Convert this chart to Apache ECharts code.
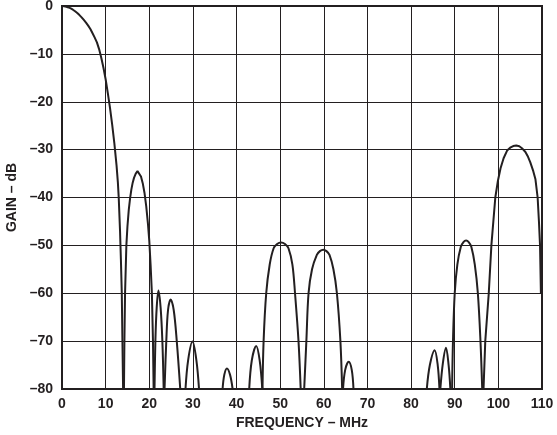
<!DOCTYPE html>
<html>
<head>
<meta charset="utf-8">
<script src="https://cdn.jsdelivr.net/npm/echarts@6/dist/echarts.min.js"></script>
<style>
  html, body { margin: 0; padding: 0; background: #fff; }
  #chart { width: 557px; height: 435px; }
</style>
</head>
<body>
<div id="chart"></div>
<script>
// Axis ticks
const xTicks = [0, 10, 20, 30, 40, 50, 60, 70, 80, 90, 100, 110];
const yTicks = [0, -10, -20, -30, -40, -50, -60, -70, -80];

// Lobes of the response, [frequency MHz, gain dB]
const lobe1 = [[0,0],[0.5,-0.05],[1,-0.15],[1.5,-0.3],[2,-0.5],[2.5,-0.77],[3,-1.1],[3.5,-1.48],[4,-1.9],[4.5,-2.37],[5,-2.9],[5.5,-3.48],[6,-4.1],[6.5,-4.8],[7,-5.7],[7.5,-6.6],[8,-7.6],[8.5,-9.0],[9,-10.8],[9.5,-12.9],[10,-15.3],[10.5,-18.2],[11,-21.3],[11.5,-24.8],[12,-28.7],[12.5,-33.3],[12.8,-36.8],[13.0,-40],[13.3,-47],[13.5,-53],[13.7,-60],[13.85,-70],[14.0,-80]];
const lobe2 = [[14.2,-80],[14.3,-70],[14.45,-60],[14.75,-50],[15.0,-46],[15.3,-42.6],[15.6,-40.2],[15.9,-38.3],[16.2,-36.9],[16.5,-35.9],[16.9,-35.0],[17.3,-34.5],[17.7,-34.8],[18.1,-35.6],[18.5,-37.0],[18.9,-39.0],[19.3,-41.8],[19.7,-45.5],[20.0,-49],[20.3,-54],[20.6,-60],[20.85,-70],[21.0,-80]];
const lobe3 = [[21.2,-80],[21.4,-70],[21.7,-63],[22.1,-59.4],[22.6,-63],[23.0,-70],[23.3,-80]];
const lobe4 = [[23.5,-80],[23.9,-70],[24.3,-63.5],[24.9,-61.3],[25.6,-63.5],[26.3,-70],[27.1,-80]];
const lobe5 = [[28.3,-80],[28.9,-74],[29.9,-70.1],[30.8,-74],[31.4,-80]];
const lobe6 = [[36.8,-80],[37.2,-77],[37.8,-75.7],[38.5,-77],[39.1,-80]];
const lobe7 = [[42.9,-80],[43.5,-74],[44.5,-71],[45.3,-74],[45.9,-80]];
const lobe8 = [[45.95,-80],[46.2,-70],[46.8,-60],[47.6,-54],[48.5,-50.6],[49.3,-49.7],[50.2,-49.4],[51.1,-49.7],[51.9,-50.6],[52.8,-54],[53.4,-60],[54.2,-70],[54.7,-80]];
const lobe9 = [[55.5,-80],[56.0,-70],[56.5,-60],[57.3,-55],[58.4,-52],[59.1,-51.2],[59.9,-50.9],[60.6,-51.2],[61.3,-52],[62.2,-55],[63.0,-60],[63.8,-70],[64.2,-80]];
const lobe10 = [[64.4,-80],[64.9,-76],[65.7,-74.3],[66.4,-76],[66.8,-80]];
const lobe11 = [[83.6,-80],[84.3,-75],[85.4,-71.9],[86.1,-75],[86.5,-80]];
const lobe12 = [[86.7,-80],[87.3,-74.5],[88.0,-71.4],[88.6,-75],[89.0,-80]];
const lobe13 = [[89.4,-80],[89.6,-70],[90.0,-60],[90.6,-54],[91.4,-50.3],[92.0,-49.3],[92.6,-49],[93.2,-49.3],[93.8,-50.3],[94.6,-54],[95.3,-60],[95.9,-70],[96.3,-80]];
const lobe14 = [[96.6,-80],[97.0,-70],[97.8,-60],[98.4,-50],[99.3,-40],[99.9,-36.5],[100.5,-33.9],[101.2,-31.8],[102.0,-30.2],[102.7,-29.6],[103.4,-29.25],[104.1,-29.15],[104.8,-29.3],[105.4,-29.7],[106.2,-30.5],[106.8,-31.5],[107.3,-32.6],[108.0,-34.5],[108.5,-36.2],[109.0,-40],[109.3,-45],[109.55,-50],[109.75,-60]];

const denseLobes = [lobe1, lobe2, lobe14];
const archLobes = [lobe3, lobe4, lobe5, lobe6, lobe7, lobe8, lobe9, lobe10, lobe11, lobe12, lobe13];

const FONT = '"Liberation Sans", Arial, sans-serif';
const labelStyle = { color: '#231f20', fontFamily: FONT, fontWeight: 'bold', fontSize: 14 };
const lineStyle = { color: '#231f20', width: 2 };

const chart = echarts.init(document.getElementById('chart'), null, { renderer: 'canvas' });
chart.setOption({
  animation: false,
  backgroundColor: '#fff',
  grid: { left: 62, right: 15, top: 6, bottom: 46, outerBoundsMode: 'none', containLabel: false, show: true, borderColor: '#231f20', borderWidth: 2, backgroundColor: 'transparent' },
  xAxis: {
    type: 'value', min: xTicks[0], max: xTicks[xTicks.length - 1], interval: 10,
    name: 'FREQUENCY – MHz', nameLocation: 'middle', nameGap: 24,
    nameTextStyle: labelStyle,
    axisLine: { show: true, lineStyle: { color: '#231f20', width: 2 } },
    axisTick: { show: false },
    axisLabel: Object.assign({ margin: 8 }, labelStyle),
    splitLine: { show: true, lineStyle: { color: '#231f20', width: 1 } }
  },
  yAxis: {
    type: 'value', min: yTicks[yTicks.length - 1], max: yTicks[0], interval: 10,
    name: 'GAIN – dB', nameLocation: 'middle', nameGap: 40, nameRotate: 90,
    nameTextStyle: labelStyle,
    axisLine: { show: true, lineStyle: { color: '#231f20', width: 2 } },
    axisTick: { show: false },
    axisLabel: Object.assign({ margin: 9, formatter: v => String(v).replace('-', '–') }, labelStyle),
    splitLine: { show: true, lineStyle: { color: '#231f20', width: 1 } }
  },
  series: denseLobes.map(d => ({
    type: 'line', data: d, smooth: false, symbol: 'none', clip: true, lineStyle: lineStyle
  })).concat(archLobes.map(d => ({
    type: 'line', data: d, smooth: 0.35, symbol: 'none', clip: true, lineStyle: lineStyle
  })))
});
</script>
</body>
</html>
